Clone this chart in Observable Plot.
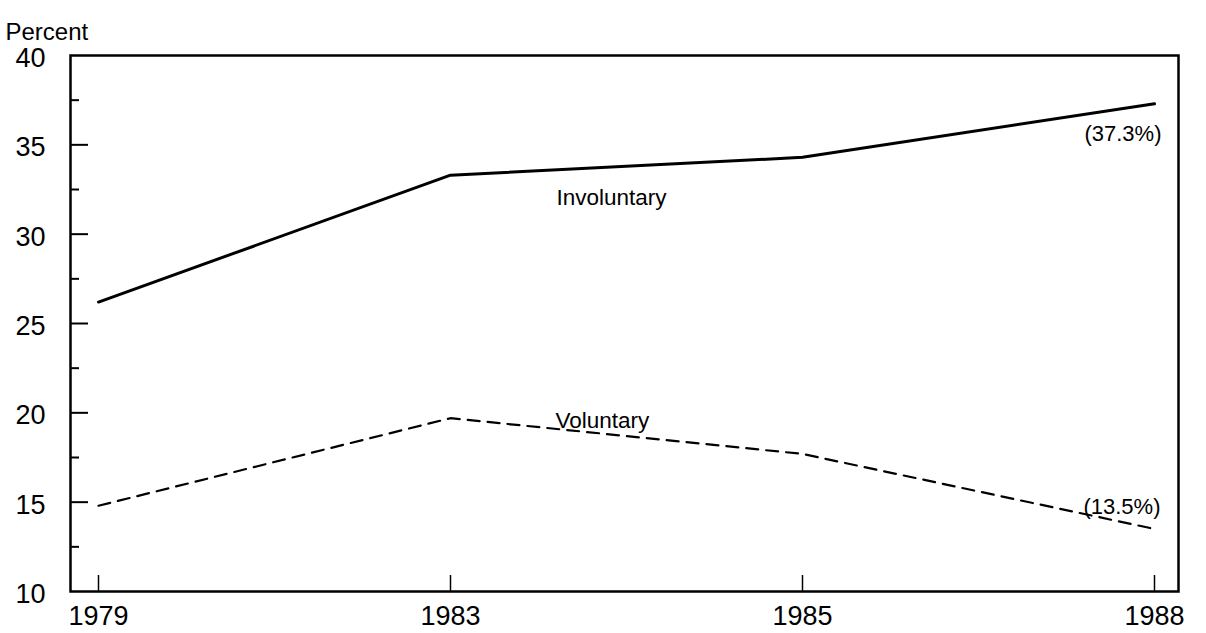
<!DOCTYPE html>
<html><head><meta charset="utf-8">
<script src="https://cdn.jsdelivr.net/npm/d3@7"></script>
<script src="https://cdn.jsdelivr.net/npm/@observablehq/plot@0.6"></script>
<style>body{margin:0;background:#fff;}</style>
</head><body><div id="chart"></div>
<script>
const years = [1979, 1983, 1985, 1988];
const involuntary = [26.2, 33.3, 34.3, 37.3];
const voluntary = [14.8, 19.7, 17.7, 13.5];
const yLabelTicks = [10, 15, 20, 25, 30, 35, 40];
const yMajorTicks = [15, 20, 25, 30, 35];
const yMinorTicks = [12.5, 17.5, 22.5, 27.5, 32.5, 37.5];
const seriesNames = ["Involuntary", "Voluntary"];
const endLabels = ["(37.3%)", "(13.5%)"];
const yTitle = "Percent";

const invRows = years.map((yr, i) => ({year: yr, value: involuntary[i]}));
const volRows = years.map((yr, i) => ({year: yr, value: voluntary[i]}));
const last = years.length - 1;

const font = "'Liberation Sans', Arial, Helvetica, sans-serif";
const W = 1206, H = 633, mT = 55, mL = 70, mR = 28, mB = 42;
const frameW = W - mL - mR, frameH = H - mT - mB;

const chart = Plot.plot({
  width: W, height: H,
  marginTop: mT, marginLeft: mL, marginRight: mR, marginBottom: mB,
  style: {fontFamily: font, color: "#000", background: "#fff"},
  x: {type: "point", domain: years, padding: 0, insetLeft: 27, insetRight: 23, axis: null},
  y: {domain: [10, 40], axis: null},
  marks: [
    Plot.axisX({ticks: years, tickSize: 0, tickPadding: 14, fontSize: 27, tickFormat: d => String(d), label: null}),
    Plot.axisY({ticks: yLabelTicks, tickSize: 0, tickPadding: 25, fontSize: 27, dy: 3, label: null}),
    Plot.tickY(yMajorTicks, {y: d => d, stroke: "#000", strokeWidth: 2, insetRight: frameW - 18}),
    Plot.tickY(yMinorTicks, {y: d => d, stroke: "#000", strokeWidth: 2, insetRight: frameW - 9}),
    Plot.tickX(years, {x: d => d, stroke: "#000", strokeWidth: 1.5, insetTop: frameH - 16}),
    Plot.line(invRows, {x: "year", y: "value", stroke: "#000", strokeWidth: 3}),
    Plot.line(volRows, {x: "year", y: "value", stroke: "#000", strokeWidth: 2.2, strokeDasharray: "12,8"}),
    Plot.text([{year: years[1], value: involuntary[1], t: seriesNames[0]}], {x: "year", y: "value", text: "t", textAnchor: "start", dx: 106, dy: 23, fontSize: 22.5, fill: "#000"}),
    Plot.text([{year: years[1], value: voluntary[1], t: seriesNames[1]}], {x: "year", y: "value", text: "t", textAnchor: "start", dx: 105, dy: 3, fontSize: 22.5, fill: "#000"}),
    Plot.text([{year: years[last], value: involuntary[last], t: endLabels[0]}], {x: "year", y: "value", text: "t", textAnchor: "end", dx: 7, dy: 30, fontSize: 22, fill: "#000"}),
    Plot.text([{year: years[last], value: voluntary[last], t: endLabels[1]}], {x: "year", y: "value", text: "t", textAnchor: "end", dx: 6, dy: -22, fontSize: 22, fill: "#000"}),
    Plot.text([yTitle], {frameAnchor: "top-left", text: d => d, textAnchor: "start", lineAnchor: "bottom", dx: -65, dy: -16, fontSize: 24, fill: "#000"}),
    Plot.frame({stroke: "#000", strokeWidth: 2.5})
  ]
});
document.getElementById("chart").appendChild(chart);
</script>
</body></html>
